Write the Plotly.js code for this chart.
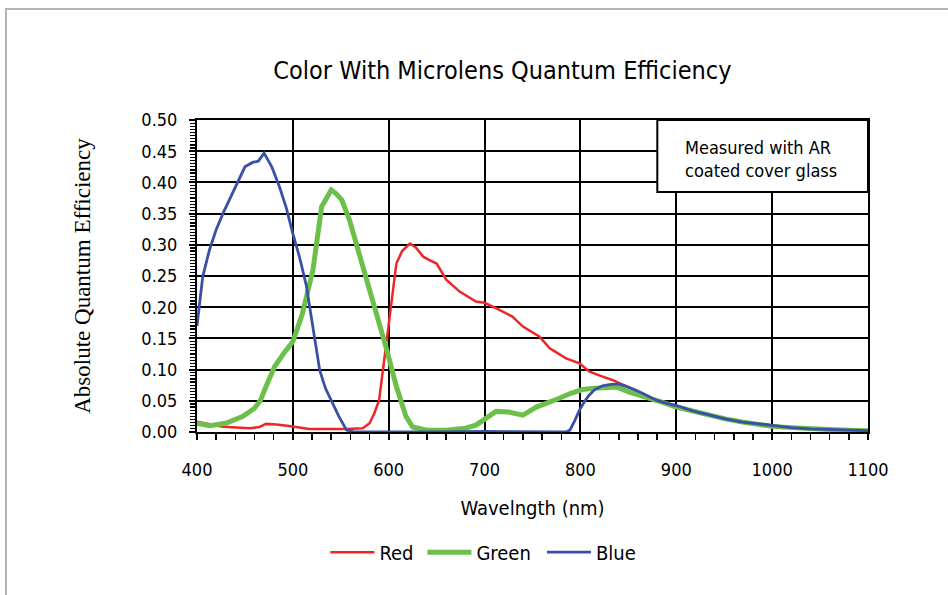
<!DOCTYPE html>
<html>
<head>
<meta charset="utf-8">
<script src="https://cdn.plot.ly/plotly-3.0.1.min.js"></script>
<style>
  html, body { margin: 0; padding: 0; background: #fff; }
  #wrap { position: relative; width: 948px; height: 595px; }
  #frame { position: absolute; left: 5px; top: 8px; width: 950px; height: 600px;
           border-left: 2px solid #b4b4b4; border-top: 2px solid #b4b4b4; pointer-events: none; }
  #chart { position: absolute; left: 0; top: 0; width: 948px; height: 595px; }
  #chart text { font-stretch: condensed !important; }
</style>
</head>
<body>
<div id="wrap">
  <div id="chart"></div>
  <div id="frame"></div>
</div>
<script>
const redX = [400,427,455,465,472,483,496,517,556,573,580,585,590,594,597,601,608,614,622,628,636,643,650,660,674,691,700,715,729,740,757,768,785,799,809,821,834,848,858,869,879,890,901,917,934,951,969,985,1000,1020,1039,1060,1080,1100];
const redY = [0.0165,0.0085,0.006,0.008,0.013,0.012,0.0096,0.005,0.005,0.006,0.014,0.03,0.051,0.1,0.142,0.185,0.27,0.29,0.302,0.296,0.281,0.275,0.27,0.244,0.225,0.209,0.207,0.196,0.185,0.169,0.153,0.134,0.118,0.11,0.097,0.09,0.083,0.073,0.066,0.058,0.051,0.046,0.042,0.034,0.027,0.021,0.016,0.013,0.01,0.007,0.005,0.004,0.003,0.002];

const greenX = [400,413,430,448,460,466,472,481,490,500,510,521,530,535,540,545,551,559,569,583,597,608,618,625,640,660,680,691,700,712,725,740,754,766,778,790,802,815,830,838,851,869,885,900,917,934,951,969,985,1000,1020,1039,1060,1080,1100];
const greenY = [0.014,0.01,0.014,0.025,0.038,0.05,0.073,0.105,0.125,0.145,0.19,0.26,0.361,0.375,0.388,0.382,0.372,0.34,0.286,0.217,0.137,0.073,0.025,0.008,0.003,0.003,0.006,0.011,0.02,0.033,0.032,0.027,0.04,0.046,0.054,0.062,0.068,0.070,0.071,0.072,0.064,0.056,0.048,0.04,0.033,0.026,0.021,0.016,0.012,0.009,0.007,0.005,0.004,0.003,0.002];

const blueX = [400,406,413,420,427,437,450,458,464,470,478,486,493,500,507,514,518,523,528,534,540,548,556,565,650,700,785,789,794,799,804,809,815,823,830,839,848,858,869,879,890,901,917,934,951,969,985,1000,1020,1039,1060,1080,1100];
const blueY = [0.17,0.249,0.292,0.324,0.35,0.382,0.425,0.432,0.434,0.447,0.425,0.393,0.36,0.318,0.28,0.235,0.195,0.142,0.099,0.07,0.051,0.025,0.003,0.0,0.0,0.001,0.0,0.003,0.018,0.035,0.048,0.059,0.068,0.074,0.076,0.077,0.073,0.067,0.059,0.051,0.046,0.042,0.034,0.027,0.021,0.016,0.013,0.01,0.007,0.005,0.004,0.003,0.002];

const xTicks = [400,500,600,700,800,900,1000,1100];
const yTicks = [0,0.05,0.1,0.15,0.2,0.25,0.3,0.35,0.4,0.45,0.5];

const chartTitle = 'Color With Microlens Quantum Efficiency';
const xTitle = 'Wavelngth (nm)';
const yTitle = 'Absolute Quantum Efficiency';
const noteText = 'Measured with AR<br>coated cover glass';

const cond = '"DejaVu Sans", sans-serif';

const traces = [
  {x: redX, y: redY, name: 'Red', mode: 'lines', line: {color: '#f02626', width: 2.5}},
  {x: greenX, y: greenY, name: 'Green', mode: 'lines', line: {color: '#6cc04a', width: 5}},
  {x: blueX, y: blueY, name: 'Blue', mode: 'lines', line: {color: '#3a50a6', width: 2.8}}
];

const layout = {
  width: 948, height: 595,
  margin: {l: 197, r: 80, t: 120, b: 163},
  paper_bgcolor: '#fff', plot_bgcolor: '#fff',
  font: {family: cond, color: '#000', size: 16},
  title: {text: chartTitle, font: {family: cond, size: 25, color: '#000'},
          x: 0.53, xref: 'container', xanchor: 'center', y: 0.882, yref: 'container', yanchor: 'middle'},
  xaxis: {
    range: [400, 1100], tickvals: xTicks, ticktext: xTicks.map(String),
    showgrid: true, gridcolor: '#000', gridwidth: 2,
    showline: true, linecolor: '#000', linewidth: 2, mirror: true,
    ticks: 'outside', ticklen: 6, tickwidth: 2, tickcolor: '#000',
    minor: {dtick: 20, ticks: 'outside', ticklen: 6, tickwidth: 1.5, tickcolor: '#000', showgrid: false},
    tickfont: {family: cond, size: 18}, zeroline: false, ticklabelstandoff: 14,
    title: {text: xTitle, font: {family: cond, size: 20}, standoff: 22}
  },
  yaxis: {
    range: [0, 0.5], tickvals: yTicks, ticktext: yTicks.map(v => v.toFixed(2)),
    showgrid: true, gridcolor: '#000', gridwidth: 2,
    showline: true, linecolor: '#000', linewidth: 2, mirror: true,
    ticks: 'outside', ticklen: 6, tickwidth: 2, tickcolor: '#000',
    minor: {dtick: 0.005, ticks: 'outside', ticklen: 5, tickwidth: 1.2, tickcolor: '#000', showgrid: false},
    tickfont: {family: cond, size: 18}, zeroline: false, ticklabelstandoff: 8,
    title: {text: yTitle, font: {family: '"Liberation Serif", "Times New Roman", serif', size: 23}, standoff: 40}
  },
  legend: {orientation: 'h', x: 0.512, xref: 'container', xanchor: 'center',
           y: 0.072, yref: 'container', yanchor: 'middle',
           font: {family: cond, size: 20}, bgcolor: 'rgba(0,0,0,0)', itemwidth: 44},
  showlegend: true,
  shapes: [{
    type: 'rect', xref: 'paper', yref: 'paper', x0: 0.686, x1: 1, y0: 0.769, y1: 1,
    fillcolor: '#fff', line: {color: '#000', width: 2}, layer: 'above'
  }],
  annotations: [{
    xref: 'paper', yref: 'paper', x: 0.7237, y: 0.875, xanchor: 'left', yanchor: 'middle',
    text: noteText, showarrow: false, align: 'left',
    font: {family: cond, size: 18, color: '#000'}
  }]
};

Plotly.newPlot('chart', traces, layout, {displayModeBar: false, staticPlot: true});
</script>
</body>
</html>
